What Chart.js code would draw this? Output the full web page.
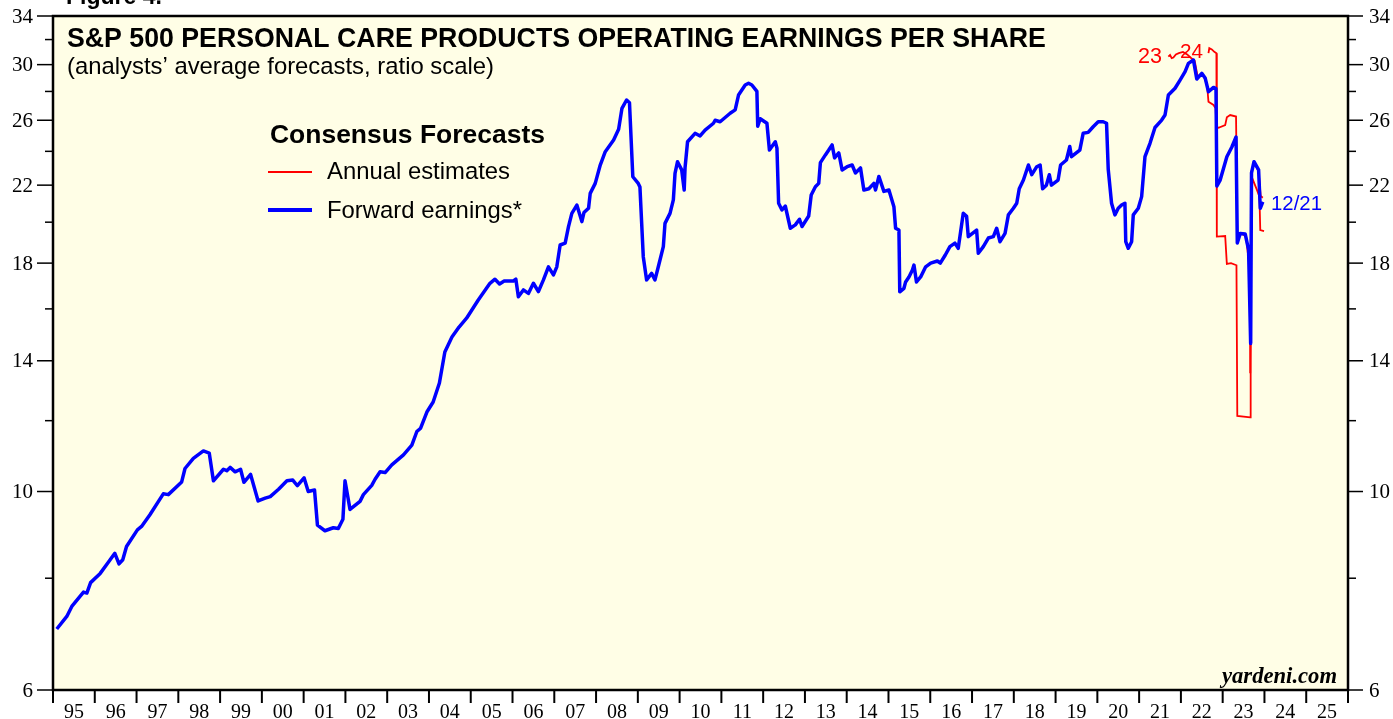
<!DOCTYPE html>
<html>
<head>
<meta charset="utf-8">
<script src="https://cdn.jsdelivr.net/npm/chart.js@4.4.0/dist/chart.umd.min.js"></script>
<style>
  html, body { margin: 0; padding: 0; background: #ffffff; }
  #wrap { width: 1393px; height: 719px; position: relative; }
</style>
</head>
<body>
<div id="wrap"><canvas id="epsChart"></canvas></div>
<script>
// Forward earnings (decimal years / dollars per share)
const fwdDates = [
  1995.09, 1995.33, 1995.45, 1995.73, 1995.81, 1995.90, 1996.13, 1996.32, 1996.48, 1996.58,
  1996.67, 1996.76, 1997.02, 1997.12, 1997.32, 1997.64, 1997.76, 1998.08, 1998.16, 1998.36,
  1998.60, 1998.74, 1998.84, 1999.08, 1999.16, 1999.24, 1999.36, 1999.49, 1999.57, 1999.73,
  1999.91, 2000.08, 2000.20, 2000.40, 2000.60, 2000.74, 2000.85, 2001.01, 2001.11, 2001.26,
  2001.33, 2001.51, 2001.71, 2001.83, 2001.94, 2001.99, 2002.11, 2002.35, 2002.43, 2002.63,
  2002.71, 2002.83, 2002.95, 2003.11, 2003.39, 2003.59, 2003.71, 2003.80, 2003.95, 2004.10,
  2004.25, 2004.38, 2004.55, 2004.72, 2004.90, 2005.18, 2005.46, 2005.58, 2005.69, 2005.80,
  2006.02, 2006.08, 2006.14, 2006.26, 2006.38, 2006.50, 2006.62, 2006.74, 2006.86, 2006.98,
  2007.06, 2007.14, 2007.26, 2007.34, 2007.42, 2007.54, 2007.66, 2007.71, 2007.82, 2007.86,
  2007.98, 2008.10, 2008.22, 2008.42, 2008.54, 2008.62, 2008.73, 2008.80, 2008.88, 2009.01,
  2009.05, 2009.13, 2009.21, 2009.33, 2009.41, 2009.49, 2009.61, 2009.65, 2009.77, 2009.85,
  2009.89, 2009.95, 2010.05, 2010.11, 2010.13, 2010.19, 2010.37, 2010.49, 2010.61, 2010.81,
  2010.85, 2010.97, 2011.21, 2011.33, 2011.41, 2011.57, 2011.65, 2011.73, 2011.85, 2011.87,
  2011.93, 2012.09, 2012.15, 2012.29, 2012.33, 2012.37, 2012.45, 2012.53, 2012.65, 2012.77,
  2012.87, 2012.93, 2013.09, 2013.15, 2013.25, 2013.33, 2013.37, 2013.49, 2013.57, 2013.65,
  2013.71, 2013.81, 2013.89, 2014.01, 2014.13, 2014.21, 2014.33, 2014.41, 2014.53, 2014.65,
  2014.69, 2014.77, 2014.89, 2015.01, 2015.13, 2015.17, 2015.25, 2015.27, 2015.37, 2015.41,
  2015.49, 2015.57, 2015.61, 2015.67, 2015.77, 2015.89, 2016.01, 2016.17, 2016.24, 2016.36,
  2016.47, 2016.59, 2016.67, 2016.79, 2016.87, 2016.91, 2017.11, 2017.15, 2017.27, 2017.39,
  2017.51, 2017.59, 2017.67, 2017.79, 2017.87, 2017.99, 2018.07, 2018.13, 2018.23, 2018.35,
  2018.43, 2018.55, 2018.63, 2018.69, 2018.78, 2018.85, 2018.90, 2019.06, 2019.12, 2019.26,
  2019.34, 2019.38, 2019.58, 2019.66, 2019.78, 2019.90, 2020.02, 2020.14, 2020.22, 2020.26,
  2020.34, 2020.42, 2020.50, 2020.58, 2020.66, 2020.68, 2020.74, 2020.82, 2020.86, 2020.98,
  2021.06, 2021.14, 2021.26, 2021.38, 2021.54, 2021.62, 2021.70, 2021.86, 2021.98, 2022.10,
  2022.18, 2022.30, 2022.38, 2022.50, 2022.58, 2022.66, 2022.78, 2022.84, 2022.86, 2022.94,
  2023.10, 2023.22, 2023.32, 2023.35, 2023.42, 2023.54, 2023.62, 2023.67, 2023.69, 2023.75,
  2023.86, 2023.90, 2023.96
];
const fwdValues = [
  7.02, 7.25, 7.44, 7.72, 7.70, 7.91, 8.10, 8.33, 8.53, 8.30,
  8.39, 8.68, 9.06, 9.14, 9.42, 9.94, 9.92, 10.25, 10.61, 10.89,
  11.10, 11.04, 10.28, 10.59, 10.55, 10.64, 10.52, 10.59, 10.24, 10.45,
  9.76, 9.83, 9.87, 10.06, 10.28, 10.30, 10.15, 10.36, 10.00, 10.04,
  9.17, 9.04, 9.11, 9.09, 9.31, 10.28, 9.55, 9.75, 9.92, 10.16,
  10.32, 10.52, 10.50, 10.71, 10.99, 11.27, 11.67, 11.77, 12.27, 12.59,
  13.22, 14.32, 14.88, 15.27, 15.62, 16.37, 17.09, 17.27, 17.06, 17.19,
  17.19, 17.27, 16.51, 16.80, 16.65, 17.09, 16.73, 17.24, 17.83, 17.46,
  17.83, 18.86, 18.95, 19.77, 20.46, 20.90, 20.03, 20.50, 20.73, 21.54,
  22.10, 23.17, 23.98, 24.71, 25.40, 26.81, 27.39, 27.20, 22.48, 22.10,
  21.90, 18.30, 17.24, 17.53, 17.24, 17.83, 18.78, 19.94, 20.46, 21.18,
  22.68, 23.37, 22.88, 21.73, 23.00, 24.60, 25.14, 24.97, 25.35, 25.80,
  26.00, 25.90, 26.47, 26.70, 27.74, 28.47, 28.60, 28.47, 28.00, 25.60,
  26.10, 25.80, 24.08, 24.60, 24.20, 21.00, 20.64, 20.85, 19.69, 19.86,
  20.15, 19.78, 20.32, 21.45, 21.91, 22.10, 23.31, 23.78, 24.08, 24.40,
  23.60, 23.90, 22.88, 23.07, 23.17, 22.70, 23.00, 21.73, 21.80, 22.10,
  21.73, 22.50, 21.65, 21.73, 20.81, 19.69, 19.60, 16.72, 16.87, 17.15,
  17.37, 17.67, 17.91, 17.15, 17.37, 17.83, 18.00, 18.10, 18.00, 18.38,
  18.78, 18.95, 18.70, 20.46, 20.30, 19.27, 19.60, 18.46, 18.78, 19.20,
  19.27, 19.69, 19.02, 19.43, 20.38, 20.73, 21.00, 21.80, 22.29, 23.17,
  22.60, 23.07, 23.17, 21.80, 22.00, 22.60, 22.00, 22.29, 23.17, 23.47,
  24.30, 23.67, 24.08, 25.14, 25.20, 25.57, 25.90, 25.90, 25.80, 22.93,
  21.00, 20.38, 20.73, 20.90, 21.00, 19.02, 18.70, 19.02, 20.38, 20.73,
  21.36, 23.67, 24.50, 25.52, 26.01, 26.35, 27.74, 28.23, 28.83, 29.46,
  30.10, 30.36, 28.91, 29.34, 28.99, 27.98, 28.29, 28.20, 21.95, 22.29,
  23.67, 24.27, 24.90, 18.96, 19.43, 19.40, 18.62, 14.64, 22.70, 23.37,
  22.88, 20.73, 21.08
];

// Annual consensus estimates for 2023 and 2024
const est23Dates = [
  2021.70, 2021.74, 2021.78, 2021.82, 2021.88, 2021.95, 2022.05, 2022.15, 2022.25, 2022.33,
  2022.40, 2022.50, 2022.58, 2022.63, 2022.66, 2022.78, 2022.83, 2022.85, 2022.90, 2023.06,
  2023.10, 2023.18, 2023.32, 2023.35, 2023.45, 2023.56, 2023.60, 2023.65, 2023.66, 2023.69,
  2023.82, 2023.88, 2023.90, 2023.99
];
const est23Values = [
  30.62, 30.75, 30.50, 30.55, 30.80, 30.90, 31.00, 30.80, 30.50, 30.30,
  29.10, 29.30, 28.90, 28.34, 27.27, 27.04, 26.81, 25.57, 25.50, 25.67,
  26.20, 26.35, 26.25, 19.30, 19.40, 19.30, 18.50, 18.00, 13.56, 22.50,
  21.73, 21.35, 19.60, 19.55
];
const est24Dates = [
  2022.66, 2022.68, 2022.74, 2022.80, 2022.85, 2022.86, 2023.06, 2023.10, 2023.20, 2023.33,
  2023.35, 2023.66, 2023.67, 2023.69, 2023.75, 2023.86, 2023.91, 2023.96
];
const est24Values = [
  30.90, 31.30, 31.20, 31.00, 30.90, 19.27, 19.30, 17.96, 18.00, 17.90,
  12.15, 12.10, 14.00, 22.80, 23.30, 22.80, 21.40, 21.30
];

const yLabelTicks = [6, 10, 14, 18, 22, 26, 30, 34];
const yMinorTicks = [8, 12, 16, 20, 24, 28, 32];
const yearLabels = [
  "95", "96", "97", "98", "99", "00", "01", "02", "03", "04", "05", "06", "07", "08", "09", "10",
  "11", "12", "13", "14", "15", "16", "17", "18", "19", "20", "21", "22", "23", "24", "25"
];
const firstYear = 1995;
const lastYear = 2026;

function pairs(dates, values) {
  return dates.map((d, i) => ({ x: d, y: values[i] }));
}

// draw text sized so it spans the given width
function fitText(ctx, text, x, y, fontTpl, width) {
  ctx.font = fontTpl.replace("{s}", 100);
  const w = ctx.measureText(text).width;
  const size = 100 * width / w;
  ctx.font = fontTpl.replace("{s}", size.toFixed(2));
  ctx.fillText(text, x, y);
}

const framePlugin = {
  id: "frame",
  beforeDatasetsDraw(chart) {
    const { ctx, chartArea: a } = chart;
    ctx.save();
    ctx.fillStyle = "#fffee6";
    ctx.fillRect(a.left, a.top, a.right - a.left, a.bottom - a.top);
    ctx.restore();
  },
  afterDraw(chart) {
    const { ctx, chartArea: a, scales } = chart;
    const xs = scales.x, ys = scales.y;
    const line = (x1, y1, x2, y2) => {
      ctx.beginPath();
      ctx.moveTo(x1, y1);
      ctx.lineTo(x2, y2);
      ctx.stroke();
    };
    ctx.save();
    ctx.strokeStyle = "#000";
    ctx.fillStyle = "#000";

    // y axis ticks, both sides
    ctx.lineWidth = 1.5;
    ctx.font = '21px "Liberation Serif"';
    ctx.textBaseline = "middle";
    yLabelTicks.forEach(v => {
      const py = ys.getPixelForValue(v);
      line(a.left - 16, py, a.left, py);
      line(a.right, py, a.right + 15, py);
      ctx.textAlign = "right";
      ctx.fillText(String(v), a.left - 20, py + 1);
      ctx.textAlign = "left";
      ctx.fillText(String(v), a.right + 21, py + 1);
    });
    yMinorTicks.forEach(v => {
      const py = ys.getPixelForValue(v);
      line(a.left - 8, py, a.left, py);
      line(a.right, py, a.right + 8, py);
    });

    // x axis: ticks at year boundaries, labels centred in each year
    ctx.lineWidth = 2;
    for (let yr = firstYear; yr <= lastYear; yr++) {
      const px = xs.getPixelForValue(yr);
      line(px, a.bottom, px, a.bottom + 13);
    }
    ctx.textAlign = "center";
    ctx.textBaseline = "alphabetic";
    ctx.font = '20px "Liberation Serif"';
    yearLabels.forEach((lab, i) => {
      ctx.fillText(lab, xs.getPixelForValue(firstYear + i + 0.5), 718);
    });

    // plot frame
    ctx.lineWidth = 2.5;
    ctx.strokeRect(a.left, a.top, a.right - a.left, a.bottom - a.top);

    // titles
    ctx.textAlign = "left";
    ctx.textBaseline = "alphabetic";
    fitText(ctx, "Figure 4.", 66, 4, 'bold {s}px "Liberation Sans"', 96);
    fitText(ctx, "S&P 500 PERSONAL CARE PRODUCTS OPERATING EARNINGS PER SHARE", 67, 47,
      'bold {s}px "Liberation Sans"', 979);
    fitText(ctx, "(analysts\u2019 average forecasts, ratio scale)", 67, 74,
      '{s}px "Liberation Sans"', 427);

    // legend
    fitText(ctx, "Consensus Forecasts", 270, 143, 'bold {s}px "Liberation Sans"', 275);
    ctx.strokeStyle = "#ff0000";
    ctx.lineWidth = 2;
    line(268, 172, 312, 172);
    ctx.strokeStyle = "#0000ff";
    ctx.lineWidth = 4;
    line(268, 210, 312, 210);
    fitText(ctx, "Annual estimates", 327, 179, '{s}px "Liberation Sans"', 183);
    fitText(ctx, "Forward earnings*", 327, 218, '{s}px "Liberation Sans"', 195);

    // series labels
    ctx.fillStyle = "#ff0000";
    fitText(ctx, "23", 1138, 63, '{s}px "Liberation Sans"', 24);
    fitText(ctx, "24", 1180, 58, '{s}px "Liberation Sans"', 23);
    ctx.fillStyle = "#0000ff";
    fitText(ctx, "12/21", 1271, 210, '{s}px "Liberation Sans"', 51);

    // source
    ctx.fillStyle = "#000";
    fitText(ctx, "yardeni.com", 1222, 683, 'italic bold {s}px "Liberation Serif"', 115);
    ctx.restore();
  }
};

const ctx = document.getElementById("epsChart").getContext("2d");
new Chart(ctx, {
  type: "line",
  data: {
    datasets: [
      {
        label: "Forward earnings*",
        data: pairs(fwdDates, fwdValues),
        borderColor: "#0000ff",
        borderWidth: 3.5,
        borderJoinStyle: "round",
        pointRadius: 0,
        tension: 0,
        order: 0,
      },
      {
        label: "2023 annual estimate",
        data: pairs(est23Dates, est23Values),
        borderColor: "#ff0000",
        borderWidth: 1.8,
        pointRadius: 0,
        tension: 0,
        order: 1,
      },
      {
        label: "2024 annual estimate",
        data: pairs(est24Dates, est24Values),
        borderColor: "#ff0000",
        borderWidth: 1.8,
        pointRadius: 0,
        tension: 0,
        order: 1,
      },
    ],
  },
  options: {
    responsive: true,
    maintainAspectRatio: false,
    animation: false,
    layout: { padding: { left: 53, right: 45, top: 16, bottom: 29 } },
    plugins: {
      legend: { display: false },
      tooltip: { enabled: false },
    },
    scales: {
      x: { type: "linear", min: firstYear, max: lastYear, display: false },
      y: { type: "logarithmic", min: 6, max: 34, display: false },
    },
  },
  plugins: [framePlugin],
});
</script>
</body>
</html>
